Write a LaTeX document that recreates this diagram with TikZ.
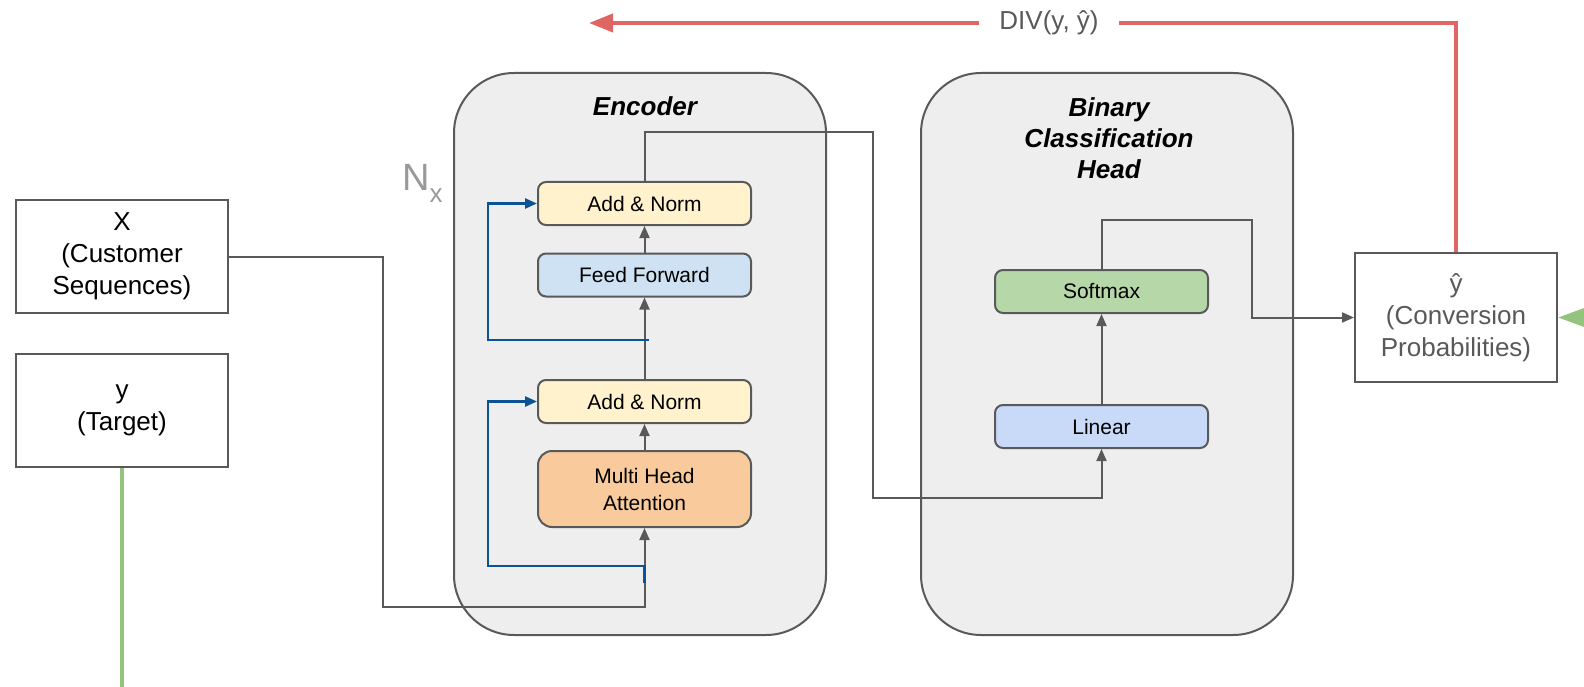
\documentclass[tikz,border=0pt]{standalone}
\usepackage{fontspec}
\setmainfont{Liberation Sans}
\usepackage{tikz}
\usetikzlibrary{positioning,arrows.meta,calc}

\definecolor{edge}{HTML}{595959}
\definecolor{panel}{HTML}{EEEEEE}
\definecolor{cream}{HTML}{FFF2CC}
\definecolor{skyblue}{HTML}{CFE2F3}
\definecolor{peach}{HTML}{F9CB9C}
\definecolor{mint}{HTML}{B6D7A8}
\definecolor{cornflower}{HTML}{C9DAF8}
\definecolor{navy}{HTML}{0B5394}
\definecolor{lossred}{HTML}{E06666}
\definecolor{leaf}{HTML}{93C47D}
\definecolor{faint}{HTML}{999999}

\tikzstyle{signal}=[arrows={-{Triangle[length=12pt,width=10pt]}},draw=edge,line width=2pt]
\tikzstyle{residual}=[signal, draw=navy, line width=2.5pt]
\tikzstyle{loss}=[draw=lossred, line width=4pt]
\tikzstyle{target}=[draw=leaf, line width=3.5pt]
\tikzstyle{block}=[draw=edge,line width=2pt]
\def\layerwidth{213pt}
\def\layerheight{43pt}
\def\panelwidth{372pt}
\def\panelheight{562pt}
\tikzstyle{panelbox}=[block, fill=panel, rounded corners=60pt,
    minimum width=\panelwidth, minimum height=\panelheight]
\tikzstyle{layer}=[block, rounded corners=8pt, inner sep=0pt,
    font=\fontsize{21}{25}\selectfont, text centered, align=center,
    minimum width=\layerwidth, minimum height=\layerheight]
\tikzstyle{datanode}=[block, inner sep=0pt, align=center,
    font=\fontsize{26}{32}\selectfont, minimum width=212pt, minimum height=113pt]
\tikzstyle{paneltitle}=[align=center, font=\fontsize{26}{31}\selectfont\bfseries\itshape]

\begin{document}
\begin{tikzpicture}[x=1pt,y=-1pt]

    \useasboundingbox (0,0) rectangle (1584,687);
    \clip (0,0) rectangle (1584,687);

    % panels
    \node[panelbox] (enc) at (640,354) {};
    \node[panelbox] (head) at (1107,354) {};
    \node[paneltitle] (enctitle) at (645,106) {Encoder};
    \node[paneltitle] (headtitle) at (1109,138) {Binary\\Classification\\Head};
    \node[text=faint, font=\fontsize{38}{40}\selectfont, inner sep=0pt, anchor=base west]
        (nx) at (402,190) {N\raisebox{-13pt}{\fontsize{26}{26}\selectfont x}};

    % encoder layers
    \node[layer, fill=cream] (norm2) at (644.5,203.5) {Add \& Norm};
    \node[layer, fill=skyblue] (ff) at (644.5,275) {Feed Forward};
    \node[layer, fill=cream] (norm1) at (644.5,401.5) {Add \& Norm};
    \node[layer, fill=peach, minimum height=76pt, rounded corners=14pt,
        font=\fontsize{21}{27}\selectfont] (mha) at (644.5,489) {Multi Head\\Attention};

    % head layers
    \node[layer, fill=cornflower] (linear) at (1101.5,426.5) {Linear};
    \node[layer, fill=mint] (softmax) at (1101.5,291.5) {Softmax};

    % inputs and output
    \node[datanode] (xin) at (122,256.5) {X\\(Customer\\Sequences)};
    \node[datanode] (yin) at (122,410.5) {y\\(Target)};
    \node[datanode, text=edge, minimum width=202pt, minimum height=129pt]
        (yhat) at (1456,317.5) {ŷ\\(Conversion\\Probabilities)};
    \node[text=edge, font=\fontsize{26}{30}\selectfont, inner sep=0pt, inner xsep=20pt]
        (div) at (1049,23) {DIV(y, ŷ)};

    % bends
    \coordinate (xdrop) at (383,607);
    \coordinate (res1) at (644.5,583);
    \coordinate (res1l) at (488,566);
    \coordinate (res2) at (649,340);
    \coordinate (res2l) at (488,340);
    \coordinate (encout) at (873,132);
    \coordinate (headin) at (873,498);
    \coordinate (smturn) at (1252,220);
    \coordinate (lossend) at (589,23);
    \coordinate (ybottom) at (122,700);
    \coordinate (yfeed) at (1620,317.5);

    % arrows
    \draw[signal] (xin.east) -| (xdrop) -| (mha.south);
    \draw[signal] (mha) -- (norm1);
    \draw[signal] (norm1) -- (ff);
    \draw[signal] (ff) -- (norm2);
    \draw[residual] (res1) |- (res1l) |- (norm1.west);
    \draw[residual] (res2) -- (res2l) |- (norm2.west);
    \draw[signal] (norm2.north) |- (encout) -- (headin) -| (linear.south);
    \draw[signal] (linear) -- (softmax);
    \draw[signal] (softmax.north) |- (smturn) |- (yhat.west);

    % loss and target
    \draw[loss] (yhat.north) |- (div.east);
    \draw[loss, -{Triangle[length=24pt,width=18pt]}] (div.west) -- (lossend);
    \draw[target] (yin.south) -- (ybottom);
    \draw[target, -{Triangle[length=26pt,width=18pt]}] (yfeed) -- (yhat.east);

\end{tikzpicture}
\end{document}
